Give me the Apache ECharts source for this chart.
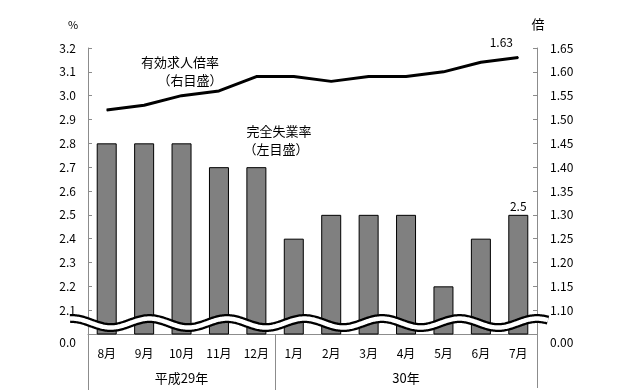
<!DOCTYPE html>
<html><head><meta charset="utf-8">
<script src="https://cdn.jsdelivr.net/npm/echarts@6/dist/echarts.min.js"></script>
<style>html,body{margin:0;padding:0;background:#fff}#c{width:634px;height:392px}</style>
</head><body><div id="c"></div>
<script>
const months = ['8月','9月','10月','11月','12月','1月','2月','3月','4月','5月','6月','7月'];
const yearGroups = ['平成29年','30年'];
const yearGroupSizes = [5, 7];
const unemployment = [2.8, 2.8, 2.8, 2.7, 2.7, 2.4, 2.5, 2.5, 2.5, 2.2, 2.4, 2.5];
const jobRatio = [1.52, 1.53, 1.55, 1.56, 1.59, 1.59, 1.58, 1.59, 1.59, 1.60, 1.62, 1.63];
const leftTickLabels = ['0.0','2.1','2.2','2.3','2.4','2.5','2.6','2.7','2.8','2.9','3.0','3.1','3.2'];
const rightTickLabels = ['0.00','1.10','1.15','1.20','1.25','1.30','1.35','1.40','1.45','1.50','1.55','1.60','1.65'];

const FONT = '"Noto Sans CJK JP", sans-serif';
const AXIS_COLOR = '#8c8c8c';
const G = {left: 88, right: 97, top: 48, bottom: 58};
const W = 634, H = 392;

const chart = echarts.init(document.getElementById('c'), null, {renderer: 'canvas'});

function tickLabelCfg(labels, margin) {
  return {
    margin: margin, color: '#000', fontSize: 12, fontFamily: FONT,
    formatter: function (v, i) { return i === 0 ? '{z|' + labels[0] + '}' : labels[i]; },
    rich: { z: { padding: [16, 0, 0, 0], fontSize: 12, fontFamily: FONT, color: '#000' } }
  };
}

const lastIdx = months.length - 1;
const barData = unemployment.map((v, i) => i === lastIdx ? {
  value: v, label: {show: true, position: 'top', distance: 2, color: '#000', fontSize: 12, fontFamily: FONT}
} : v);

chart.setOption({
  animation: false,
  backgroundColor: '#fff',
  grid: {left: G.left, right: G.right, top: G.top, bottom: G.bottom, containLabel: false},
  xAxis: {
    type: 'category', data: months, boundaryGap: true,
    axisLine: {show: true, lineStyle: {color: AXIS_COLOR, width: 1}},
    axisTick: {show: false},
    axisLabel: {margin: 13, color: '#000', fontSize: 12, fontFamily: FONT, interval: 0},
    splitLine: {show: false}
  },
  yAxis: [{
    type: 'value', min: 2.0, max: 3.2, interval: 0.1, position: 'left',
    axisLine: {show: true, lineStyle: {color: AXIS_COLOR, width: 1}},
    axisTick: {show: true, inside: true, length: 4, lineStyle: {color: AXIS_COLOR}},
    axisLabel: tickLabelCfg(leftTickLabels, 12),
    splitLine: {show: false}
  }, {
    type: 'value', min: 1.05, max: 1.65, interval: 0.05, position: 'right',
    axisLine: {show: true, lineStyle: {color: AXIS_COLOR, width: 1}},
    axisTick: {show: true, inside: true, length: 4, lineStyle: {color: AXIS_COLOR}},
    axisLabel: tickLabelCfg(rightTickLabels, 13),
    splitLine: {show: false}
  }],
  series: [{
    name: '完全失業率', type: 'bar', yAxisIndex: 0, data: barData, barWidth: 20,
    itemStyle: {color: '#808080', borderColor: '#000', borderWidth: 1}, z: 2
  }, {
    name: '有効求人倍率', type: 'line', yAxisIndex: 1, data: jobRatio,
    showSymbol: true, symbol: 'circle', symbolSize: 1, itemStyle: {color: '#000'},
    lineStyle: {color: '#000', width: 3}, z: 5,
    label: {
      show: true, position: 'top', offset: [-17, -4], color: '#000', fontSize: 12, fontFamily: FONT,
      formatter: p => p.dataIndex === lastIdx ? p.value.toFixed(2) : ''
    }
  }]
});

// decorations computed from the chart's own scales
const graphics = [];
const bottomY = chart.convertToPixel({yAxisIndex: 0}, 2.0);
const gridL = G.left, gridR = W - G.right;
const catW = (gridR - gridL) / months.length;

// separators below x-axis
let acc = 0;
const seps = [gridL];
yearGroupSizes.forEach(n => { acc += n; seps.push(gridL + acc * catW); });
seps.forEach((x, i) => {
  graphics.push({type: 'line', shape: {x1: Math.round(x) + 0.5, y1: bottomY, x2: Math.round(x) + 0.5, y2: i === seps.length - 1 ? 388 : 390},
    style: {stroke: AXIS_COLOR, lineWidth: 1}, z: 10});
});
// year labels
acc = 0;
yearGroups.forEach((t, i) => {
  const x0 = gridL + acc * catW; acc += yearGroupSizes[i];
  const x1 = gridL + acc * catW;
  graphics.push({type: 'text', x: (x0 + x1) / 2, y: bottomY + 44,
    style: {text: t, fill: '#000', font: '13px ' + FONT, textAlign: 'center', textVerticalAlign: 'middle'}, z: 10});
});

// wavy axis break
const yc = chart.convertToPixel({yAxisIndex: 0}, 2.046);
const pts = [];
for (let x = gridL - 18; x <= gridR + 11; x += 1) {
  pts.push([x, yc - 4.5 * Math.cos(2 * Math.PI * (x - 72) / 77.5)]);
}
graphics.push({type: 'polyline', shape: {points: pts}, style: {stroke: '#000', lineWidth: 9, fill: null}, z: 20});
graphics.push({type: 'polyline', shape: {points: pts}, style: {stroke: '#fff', lineWidth: 4.5, fill: null}, z: 21});

// unit labels and annotations
const txt = (t, x, y, size) => graphics.push({type: 'text', x: x, y: y,
  style: {text: t, fill: '#000', font: size + 'px ' + FONT, textAlign: 'center', textVerticalAlign: 'middle'}, z: 10});
txt('%', 73, 25, 11);
txt('倍', 538, 24, 13);
txt('有効求人倍率', 180, 62, 13);
txt('（右目盛）', 190, 80, 13);
txt('完全失業率', 279, 131, 13);
txt('（左目盛）', 276, 149, 13);

chart.setOption({graphic: graphics});
</script></body></html>
